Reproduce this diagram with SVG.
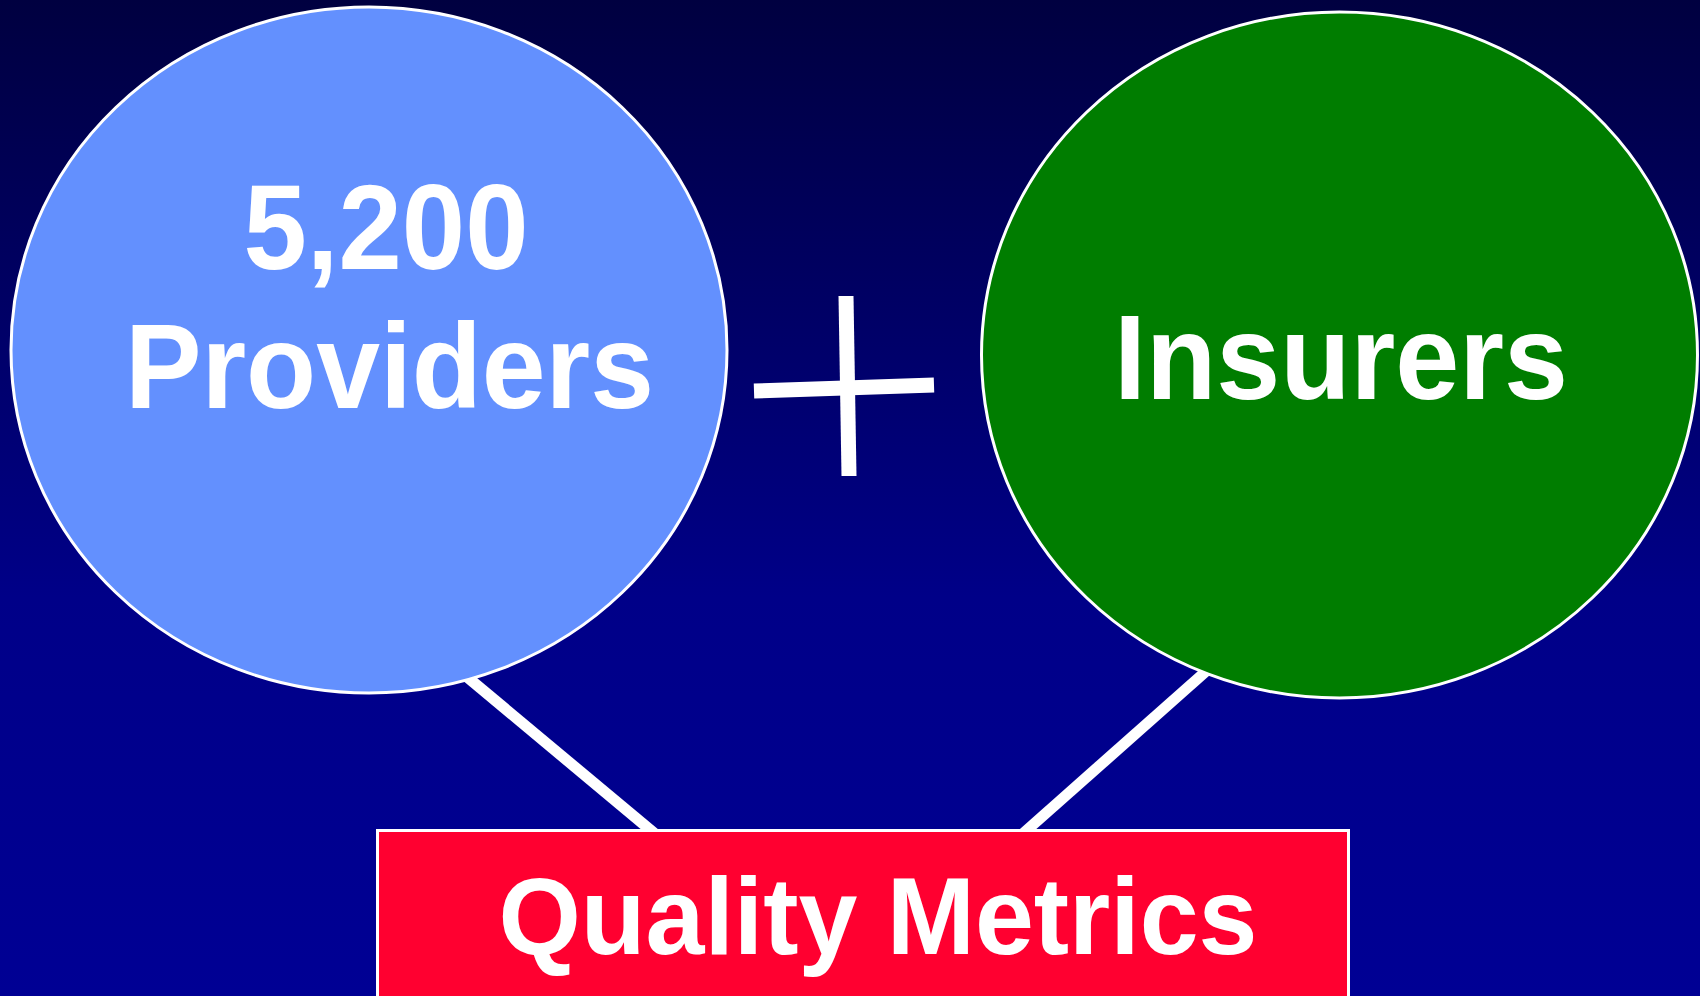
<svg xmlns="http://www.w3.org/2000/svg" width="1700" height="996" viewBox="0 0 1700 996">
  <defs>
    <linearGradient id="bg" x1="0" y1="0" x2="0" y2="1">
      <stop offset="0" stop-color="#000040"/>
      <stop offset="0.6" stop-color="#000088"/>
      <stop offset="1" stop-color="#000094"/>
    </linearGradient>
    <style>
      .lbl { font-family: "Liberation Sans", Arial, sans-serif; font-weight: bold; fill: #ffffff; text-anchor: middle; }
      .node { stroke: #ffffff; stroke-width: 3; }
      .conn { stroke: #ffffff; stroke-width: 11; fill: none; }
      .plus { stroke: #ffffff; stroke-width: 15; fill: none; }
    </style>
  </defs>
  <rect x="0" y="0" width="1700" height="996" fill="url(#bg)"/>
  <g id="connectors">
    <line class="conn" x1="430" y1="646" x2="660" y2="838"/>
    <line class="conn" x1="1230" y1="650" x2="1018" y2="838"/>
  </g>
  <g id="plus">
    <line class="plus" x1="754" y1="391" x2="934" y2="385"/>
    <line class="plus" x1="846" y1="296" x2="849" y2="476"/>
  </g>
  <g id="providers">
    <ellipse class="node" cx="369" cy="350" rx="358" ry="343" fill="#6390FE"/>
    <text class="lbl" x="386" y="269" font-size="120" textLength="285" lengthAdjust="spacingAndGlyphs">5,200</text>
    <text class="lbl" x="389.5" y="408" font-size="120" textLength="529" lengthAdjust="spacingAndGlyphs">Providers</text>
  </g>
  <g id="insurers">
    <ellipse class="node" cx="1339.5" cy="355" rx="358" ry="343" fill="#007D00"/>
    <text class="lbl" x="1341" y="399" font-size="120" textLength="454" lengthAdjust="spacingAndGlyphs">Insurers</text>
  </g>
  <g id="quality-metrics">
    <rect class="node" x="377.5" y="830.5" width="971" height="180" fill="#FF0030"/>
    <text class="lbl" x="878" y="954" font-size="110" textLength="759" lengthAdjust="spacingAndGlyphs">Quality Metrics</text>
  </g>
</svg>
